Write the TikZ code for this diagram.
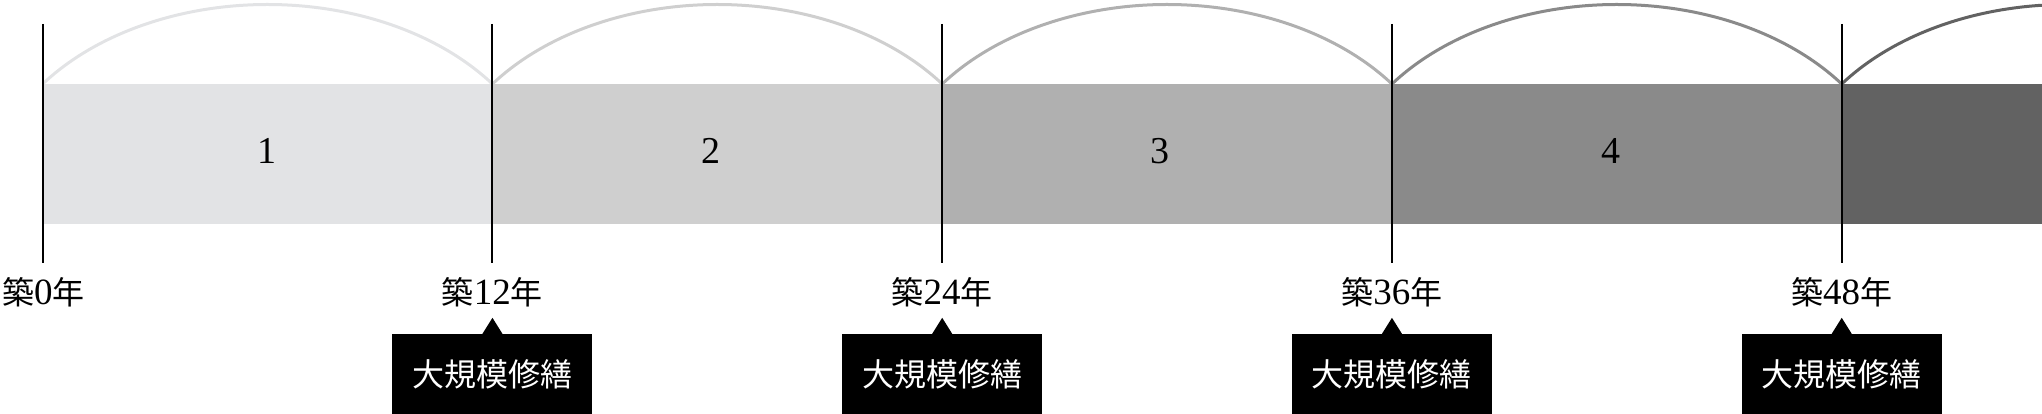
\documentclass[tikz,border=0pt]{standalone}
\usepackage{fontspec}
\setmainfont{Liberation Serif}
\newfontfamily\cjk{Noto Sans CJK JP}
\definecolor{barA}{HTML}{E2E3E5}
\definecolor{barB}{HTML}{CFCFCF}
\definecolor{barC}{HTML}{B0B0B0}
\definecolor{barD}{HTML}{8A8A8A}
\definecolor{barE}{HTML}{626262}
\newcommand{\kj}[1]{{\cjk\fontsize{32}{36}\selectfont #1}}
\newcommand{\dg}[1]{{\fontsize{37}{40}\selectfont #1}}
\newcommand{\yrlabel}[1]{\kj{築}\dg{#1}\kj{年}}
\tikzset{
  barbox/.style={rectangle, inner sep=0pt, minimum height=140pt, anchor=north west, fill=#1},
  barnum/.style={inner sep=0pt, font=\fontsize{38}{40}\selectfont},
  tick/.style={line width=2pt, black},
  arcline/.style={line width=3pt, #1},
  yearlab/.style={inner sep=0pt},
  calloutbox/.style={rectangle, fill=black, text=white, inner sep=0pt, minimum width=200pt, minimum height=80pt},
  spanarc/.style={start angle=143.43, end angle=36.57, x radius=280pt, y radius=196.7pt}
}
\begin{document}
\begin{tikzpicture}[x=1pt,y=1pt]
\useasboundingbox (0,0) rectangle (2042,-414);
% bars
\node[barbox=barA, minimum width=449.75pt] (bar1) at (42.7,-84) {};
\node[barbox=barB, minimum width=449.75pt] (bar2) at (492.45,-84) {};
\node[barbox=barC, minimum width=449.75pt] (bar3) at (942.2,-84) {};
\node[barbox=barD, minimum width=449.75pt] (bar4) at (1391.95,-84) {};
\node[barbox=barE, minimum width=350.3pt] (bar5) at (1841.7,-84) {};
% numbers
\node[barnum] (n1) at (267,-151) {1};
\node[barnum] (n2) at (711,-151) {2};
\node[barnum] (n3) at (1160,-151) {3};
\node[barnum] (n4) at (1611,-151) {4};
% arcs
\draw[arcline=barA] (bar1.north west) arc[spanarc];
\draw[arcline=barB] (bar2.north west) arc[spanarc];
\draw[arcline=barC] (bar3.north west) arc[spanarc];
\draw[arcline=barD] (bar4.north west) arc[spanarc];
\draw[arcline=barE] (bar5.north west) arc[spanarc];
% ticks
\coordinate (t0a) at (42.7,-24);   \coordinate (t0b) at (42.7,-263);
\coordinate (t1a) at (492.45,-24); \coordinate (t1b) at (492.45,-263);
\coordinate (t2a) at (942.2,-24);  \coordinate (t2b) at (942.2,-263);
\coordinate (t3a) at (1391.95,-24);\coordinate (t3b) at (1391.95,-263);
\coordinate (t4a) at (1841.7,-24); \coordinate (t4b) at (1841.7,-263);
\draw[tick] (t0a) -- (t0b);
\draw[tick] (t1a) -- (t1b);
\draw[tick] (t2a) -- (t2b);
\draw[tick] (t3a) -- (t3b);
\draw[tick] (t4a) -- (t4b);
% year labels
\node[yearlab, anchor=west] (y0) at (2,-292) {\yrlabel{0}};
\node[yearlab] (y1) at (492.45,-292) {\yrlabel{12}};
\node[yearlab] (y2) at (942.2,-292) {\yrlabel{24}};
\node[yearlab] (y3) at (1391.95,-292) {\yrlabel{36}};
\node[yearlab] (y4) at (1841.7,-292) {\yrlabel{48}};
% callouts
\foreach \i/\x in {1/492.45, 2/942.2, 3/1391.95, 4/1841.7}{
  \node[calloutbox] (m\i) at (\x,-374) {\kj{大規模修繕}};
  \fill ([xshift=-10pt]m\i.north) -- ([yshift=16pt]m\i.north) -- ([xshift=10pt]m\i.north) -- cycle;
}
\end{tikzpicture}
\end{document}
